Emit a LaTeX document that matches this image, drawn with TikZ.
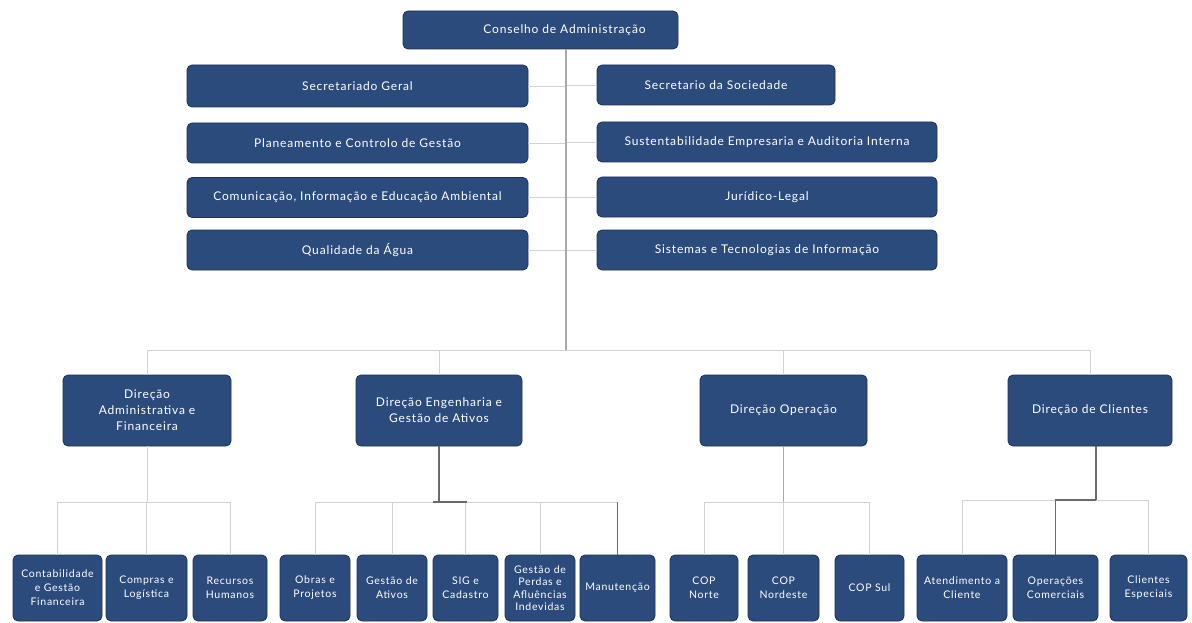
\documentclass[tikz,border=0pt]{standalone}
\usepackage{fontspec}
\setmainfont{Lato}[LetterSpace=7]
\definecolor{navy}{HTML}{2C4B7D}
\definecolor{navyedge}{HTML}{1C3158}
\definecolor{linelight}{HTML}{D2D2D2}
\definecolor{linemid}{HTML}{A9A9A9}
\definecolor{linedark}{HTML}{6A6A6A}
\begin{document}
\begin{tikzpicture}[x=1pt,y=-1pt,
  box/.style={draw=navyedge, line width=0.8pt, fill=navy, rounded corners=5pt,
    text=white, align=center, inner sep=0pt, font=\fontsize{12}{16}\selectfont},
  sbox/.style={box, minimum height=66, font=\fontsize{10.5}{14}\selectfont},
  rowbox/.style={box, minimum height=40},
  dirbox/.style={box, minimum height=71},
  link/.style={draw=linelight, line width=0.8pt},
  mlink/.style={draw=linemid, line width=1.6pt},
  dlink/.style={draw=linedark, line width=1.3pt}]
\useasboundingbox[fill=white] (0,0) rectangle (1192,623);

% top
\node[box, minimum width=275, minimum height=38] (cons) at (540.5,30) {\hspace*{48pt}Conselho de Administração};

% left column
\node[rowbox, minimum width=341, minimum height=42] (sg) at (357.5,86) {Secretariado Geral};
\node[rowbox, minimum width=341] (pcg) at (357.5,143) {Planeamento e Controlo de Gestão};
\node[rowbox, minimum width=341] (cie) at (357.5,197.5) {Comunicação, Informação e Educação Ambiental};
\node[rowbox, minimum width=341] (qa) at (357.5,250) {Qualidade da Água};

% right column
\node[rowbox, minimum width=238] (ss) at (716,85) {Secretario da Sociedade};
\node[rowbox, minimum width=340] (sea) at (767,142) {Sustentabilidade Empresaria e Auditoria Interna};
\node[rowbox, minimum width=340] (jl) at (767,197) {Jurídico-Legal};
\node[rowbox, minimum width=340] (sti) at (767,250) {Sistemas e Tecnologias de Informação};

% directions
\node[dirbox, minimum width=168] (dafin) at (147,410.5) {Direção\\Administrativa e\\Financeira};
\node[dirbox, minimum width=166] (deng) at (439,410.5) {Direção Engenharia e\\Gestão de Ativos};
\node[dirbox, minimum width=167] (dop) at (783.5,410.5) {Direção Operação};
\node[dirbox, minimum width=164] (dcli) at (1090,410.5) {Direção de Clientes};

% bottom row
\node[sbox, minimum width=89] (b1) at (57.5,588) {Contabilidade\\e Gestão\\Financeira};
\node[sbox, minimum width=81] (b2) at (146.5,588) {Compras e\\Logística};
\node[sbox, minimum width=74] (b3) at (230,588) {Recursos\\Humanos};
\node[sbox, minimum width=70] (b4) at (315,588) {Obras e\\Projetos};
\node[sbox, minimum width=70] (b5) at (392,588) {Gestão de\\Ativos};
\node[sbox, minimum width=65] (b6) at (465.5,588) {SIG e\\Cadastro};
\node[sbox, minimum width=70, font=\fontsize{10.5}{12.5}\selectfont] (b7) at (540,588) {Gestão de\\Perdas e\\Afluências\\Indevidas};
\node[sbox, minimum width=75] (b8) at (617.5,588) {Manutenção};
\node[sbox, minimum width=68] (b9) at (704,588) {COP\\Norte};
\node[sbox, minimum width=71] (b10) at (783.5,588) {COP\\Nordeste};
\node[sbox, minimum width=69] (b11) at (869.5,588) {COP Sul};
\node[sbox, minimum width=90] (b12) at (962,588) {Atendimento a\\Cliente};
\node[sbox, minimum width=85] (b13) at (1055.5,588) {Operações\\Comerciais};
\node[sbox, minimum width=77] (b14) at (1148.5,588) {Clientes\\Especiais};

% hubs
\coordinate (hub) at (566,350);
\coordinate (lowA) at (0,502);
\coordinate (lowC) at (0,500);

% central spine and staff links
\draw[link] (sg.east) -- (sg.east -| hub);
\draw[link] (pcg.east) -- (pcg.east -| hub);
\draw[link] (cie.east) -- (cie.east -| hub);
\draw[link] (qa.east) -- (qa.east -| hub);
\draw[link] (ss.west) -- (ss.west -| hub);
\draw[link] (sea.west) -- (sea.west -| hub);
\draw[link] (jl.west) -- (jl.west -| hub);
\draw[link] (sti.west) -- (sti.west -| hub);
\draw[mlink] (cons.south -| hub) -- (hub);

% top bus
\draw[link] (dafin.north) -- (dafin.north |- hub) -- (dcli.north |- hub) -- (dcli.north);
\draw[link] (deng.north) -- (deng.north |- hub);
\draw[link] (dop.north) -- (dop.north |- hub);

% Administrativa
\draw[link] (dafin.south) -- (dafin.south |- lowA);
\draw[link] (b1.north) -- (b1.north |- lowA) -- (b3.north |- lowA) -- (b3.north);
\draw[link] (b2.north) -- (b2.north |- lowA);

% Engenharia
\draw[link] (b4.north) -- (b4.north |- lowA) -- (b8.north |- lowA);
\draw[link] (b5.north) -- (b5.north |- lowA);
\draw[link] (b6.north) -- (b6.north |- lowA);
\draw[link] (b7.north) -- (b7.north |- lowA);
\draw[dlink] (b8.north) -- (b8.north |- lowA);
\draw[dlink] (deng.south) -- (deng.south |- lowA);
\draw[dlink] ([xshift=-6pt]deng.south |- lowA) -- ([xshift=28pt]deng.south |- lowA);

% Operacao
\draw[mlink, line width=1.2pt] (dop.south) -- (dop.south |- lowA);
\draw[link] (b9.north) -- (b9.north |- lowA) -- (b11.north |- lowA) -- (b11.north);
\draw[link] (b10.north) -- (b10.north |- lowA);

% Clientes
\draw[dlink] ([xshift=6pt]dcli.south) -- ([xshift=6pt]dcli.south |- lowC);
\draw[link] (b12.north) -- (b12.north |- lowC) -- (b14.north |- lowC) -- (b14.north);
\draw[dlink, line width=1.1pt] (b13.north) -- (b13.north |- lowC) -- ([xshift=6pt]dcli.south |- lowC);
\end{tikzpicture}
\end{document}
